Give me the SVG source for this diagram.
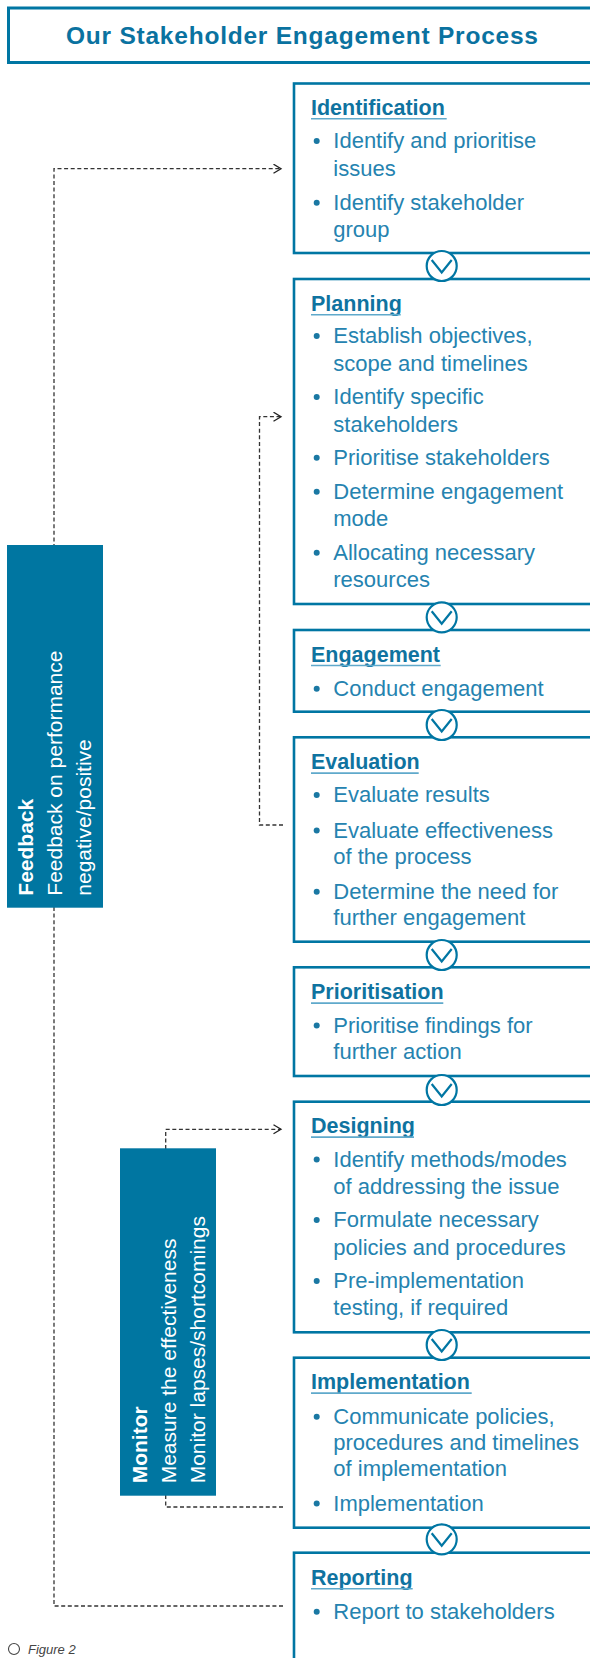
<svg xmlns="http://www.w3.org/2000/svg" width="590" height="1658" viewBox="0 0 590 1658">
<style>
.box{fill:#fff;stroke:#0076a3;stroke-width:2.6}
.hd{font-family:"Liberation Sans",Arial,sans-serif;font-weight:bold;font-size:21.5px;fill:#0f73a0}
.bt{font-family:"Liberation Sans",Arial,sans-serif;font-size:22px;fill:#2583b0}
.ul{stroke:#5fa9cb;stroke-width:1.6}
.dot{fill:#1a78a3}
.dash{fill:none;stroke:#333;stroke-width:1.3;stroke-dasharray:4 2.6}
.side{fill:#0076a1}
.sb{font-family:"Liberation Sans",Arial,sans-serif;font-weight:bold;font-size:21px;fill:#fff}
.st{font-family:"Liberation Sans",Arial,sans-serif;font-size:21px;fill:#fff}
.cir{fill:#fff;stroke:#0076a3;stroke-width:2.2}
.chev{fill:none;stroke:#0076a3;stroke-width:2.2}
</style>
<defs>
<marker id="arr" markerWidth="10" markerHeight="12" refX="8" refY="5" orient="auto" markerUnits="userSpaceOnUse">
<path d="M0.5,0.5 L8,5 L0.5,9.5" fill="none" stroke="#222" stroke-width="1.3"/>
</marker>
<g id="chevron"><circle class="cir" cx="0" cy="0" r="15"/><path class="chev" d="M-10,-6 L0,6.5 L10,-6"/></g>
</defs>
<rect width="590" height="1658" fill="#fff"/>

<g id="title">
<rect x="8.5" y="8" width="600" height="54.5" fill="#fff" stroke="#0076a3" stroke-width="3"/>
<text x="66" y="44" font-family="Liberation Sans,Arial,sans-serif" font-weight="bold" font-size="24.5" textLength="472" lengthAdjust="spacing" fill="#0a72a0">Our Stakeholder Engagement Process</text>
</g>

<g id="connectors">
<path class="dash" d="M283,1606 H54 V168.7 H281" marker-end="url(#arr)"/>
<path class="dash" d="M283,825 H259.5 V416.7 H281" marker-end="url(#arr)"/>
<path class="dash" d="M283,1507 H165.7 V1129.3 H281" marker-end="url(#arr)"/>
</g>

<g id="feedback">
<rect class="side" x="7" y="545" width="96" height="362.7"/>
<text class="sb" transform="translate(33.3,895.7) rotate(-90)">Feedback</text>
<text class="st" transform="translate(62.3,895.7) rotate(-90)">Feedback on performance</text>
<text class="st" transform="translate(91,895.7) rotate(-90)">negative/positive</text>
</g>

<g id="monitor">
<rect class="side" x="120" y="1148.3" width="96" height="347.4"/>
<text class="sb" transform="translate(146.7,1483.3) rotate(-90)">Monitor</text>
<text class="st" transform="translate(176,1483.3) rotate(-90)">Measure the effectiveness</text>
<text class="st" transform="translate(205,1483.3) rotate(-90)">Monitor lapses/shortcomings</text>
</g>

<g id="identification">
<rect class="box" x="294" y="83.5" width="310" height="169.5"/>
<text class="hd" x="311" y="115">Identification</text>
<line class="ul" x1="311" y1="118.8" x2="446.7" y2="118.8"/>
<circle class="dot" cx="316.7" cy="141" r="3"/>
<text class="bt" x="333.3" y="148.3">Identify and prioritise</text>
<text class="bt" x="333.3" y="175.7">issues</text>
<circle class="dot" cx="316.7" cy="202.7" r="3"/>
<text class="bt" x="333.3" y="210">Identify stakeholder</text>
<text class="bt" x="333.3" y="236.7">group</text>
</g>

<g id="planning">
<rect class="box" x="294" y="279" width="310" height="325"/>
<text class="hd" x="311" y="311">Planning</text>
<line class="ul" x1="311" y1="314.8" x2="400.7" y2="314.8"/>
<circle class="dot" cx="316.7" cy="336" r="3"/>
<text class="bt" x="333.3" y="343.3">Establish objectives,</text>
<text class="bt" x="333.3" y="370.7">scope and timelines</text>
<circle class="dot" cx="316.7" cy="397" r="3"/>
<text class="bt" x="333.3" y="404.3">Identify specific</text>
<text class="bt" x="333.3" y="431.7">stakeholders</text>
<circle class="dot" cx="316.7" cy="457.7" r="3"/>
<text class="bt" x="333.3" y="465">Prioritise stakeholders</text>
<circle class="dot" cx="316.7" cy="491.7" r="3"/>
<text class="bt" x="333.3" y="499">Determine engagement</text>
<text class="bt" x="333.3" y="526">mode</text>
<circle class="dot" cx="316.7" cy="552.7" r="3"/>
<text class="bt" x="333.3" y="560">Allocating necessary</text>
<text class="bt" x="333.3" y="587.3">resources</text>
</g>

<g id="engagement">
<rect class="box" x="294" y="630" width="310" height="81.7"/>
<text class="hd" x="311" y="661.7">Engagement</text>
<line class="ul" x1="311" y1="665.5" x2="440.7" y2="665.5"/>
<circle class="dot" cx="316.7" cy="688.7" r="3"/>
<text class="bt" x="333.3" y="696">Conduct engagement</text>
</g>

<g id="evaluation">
<rect class="box" x="294" y="737.3" width="310" height="204.4"/>
<text class="hd" x="311" y="769.3">Evaluation</text>
<line class="ul" x1="311" y1="773.1" x2="418.7" y2="773.1"/>
<circle class="dot" cx="316.7" cy="795" r="3"/>
<text class="bt" x="333.3" y="802.3">Evaluate results</text>
<circle class="dot" cx="316.7" cy="830.4" r="3"/>
<text class="bt" x="333.3" y="837.7">Evaluate effectiveness</text>
<text class="bt" x="333.3" y="864">of the process</text>
<circle class="dot" cx="316.7" cy="891.7" r="3"/>
<text class="bt" x="333.3" y="899">Determine the need for</text>
<text class="bt" x="333.3" y="925">further engagement</text>
</g>

<g id="prioritisation">
<rect class="box" x="294" y="967.3" width="310" height="108.7"/>
<text class="hd" x="311" y="999.3">Prioritisation</text>
<line class="ul" x1="311" y1="1003.1" x2="443.3" y2="1003.1"/>
<circle class="dot" cx="316.7" cy="1025.4" r="3"/>
<text class="bt" x="333.3" y="1032.7">Prioritise findings for</text>
<text class="bt" x="333.3" y="1059.3">further action</text>
</g>

<g id="designing">
<rect class="box" x="294" y="1101.7" width="310" height="230.6"/>
<text class="hd" x="311" y="1133.3">Designing</text>
<line class="ul" x1="311" y1="1137.1" x2="414" y2="1137.1"/>
<circle class="dot" cx="316.7" cy="1159.4" r="3"/>
<text class="bt" x="333.3" y="1166.7">Identify methods/modes</text>
<text class="bt" x="333.3" y="1194">of addressing the issue</text>
<circle class="dot" cx="316.7" cy="1220" r="3"/>
<text class="bt" x="333.3" y="1227.3">Formulate necessary</text>
<text class="bt" x="333.3" y="1255">policies and procedures</text>
<circle class="dot" cx="316.7" cy="1281" r="3"/>
<text class="bt" x="333.3" y="1288.3">Pre-implementation</text>
<text class="bt" x="333.3" y="1315">testing, if required</text>
</g>

<g id="implementation">
<rect class="box" x="294" y="1357.7" width="310" height="170"/>
<text class="hd" x="311" y="1389.3">Implementation</text>
<line class="ul" x1="311" y1="1393.1" x2="471.7" y2="1393.1"/>
<circle class="dot" cx="316.7" cy="1416.7" r="3"/>
<text class="bt" x="333.3" y="1424">Communicate policies,</text>
<text class="bt" x="333.3" y="1450">procedures and timelines</text>
<text class="bt" x="333.3" y="1476">of implementation</text>
<circle class="dot" cx="316.7" cy="1503.4" r="3"/>
<text class="bt" x="333.3" y="1510.7">Implementation</text>
</g>

<g id="reporting">
<rect class="box" x="294" y="1552.7" width="310" height="150"/>
<text class="hd" x="311" y="1585">Reporting</text>
<line class="ul" x1="311" y1="1588.8" x2="412.7" y2="1588.8"/>
<circle class="dot" cx="316.7" cy="1611.7" r="3"/>
<text class="bt" x="333.3" y="1619">Report to stakeholders</text>
</g>

<g id="flow-chevrons">
<use href="#chevron" x="441.7" y="266"/>
<use href="#chevron" x="441.7" y="617.3"/>
<use href="#chevron" x="441.7" y="725"/>
<use href="#chevron" x="441.7" y="955"/>
<use href="#chevron" x="441.7" y="1090"/>
<use href="#chevron" x="441.7" y="1345"/>
<use href="#chevron" x="441.7" y="1539.3"/>
</g>

<g id="caption">
<circle cx="14" cy="1649" r="5.5" fill="none" stroke="#444" stroke-width="1.1"/>
<text x="28" y="1653.5" font-family="Liberation Sans,Arial,sans-serif" font-style="italic" font-size="13" fill="#444">Figure 2</text>
</g>
</svg>
